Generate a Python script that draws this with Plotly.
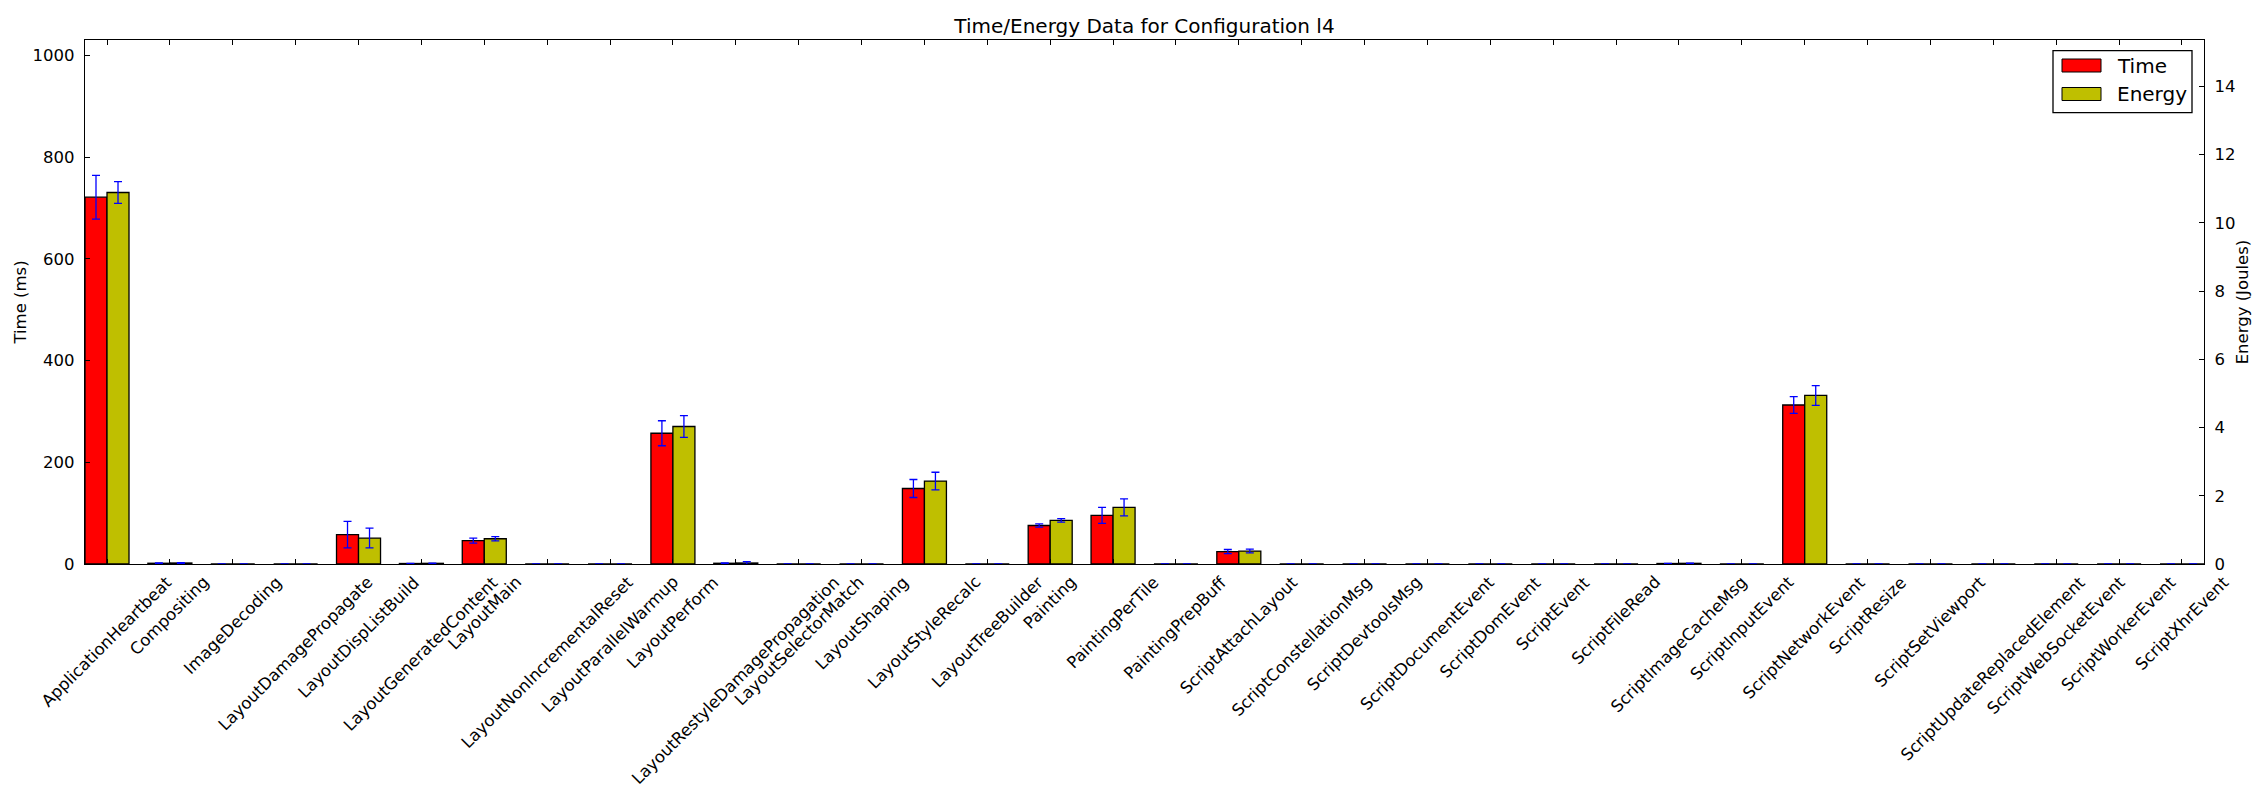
import plotly.graph_objects as go

categories = ["ApplicationHeartbeat", "Compositing", "ImageDecoding", "LayoutDamagePropagate",
              "LayoutDispListBuild", "LayoutGeneratedContent", "LayoutMain", "LayoutNonIncrementalReset",
              "LayoutParallelWarmup", "LayoutPerform", "LayoutRestyleDamagePropagation", "LayoutSelectorMatch",
              "LayoutShaping", "LayoutStyleRecalc", "LayoutTreeBuilder", "Painting", "PaintingPerTile",
              "PaintingPrepBuff", "ScriptAttachLayout", "ScriptConstellationMsg", "ScriptDevtoolsMsg",
              "ScriptDocumentEvent", "ScriptDomEvent", "ScriptEvent", "ScriptFileRead", "ScriptImageCacheMsg",
              "ScriptInputEvent", "ScriptNetworkEvent", "ScriptResize", "ScriptSetViewport",
              "ScriptUpdateReplacedElement", "ScriptWebSocketEvent", "ScriptWorkerEvent", "ScriptXhrEvent"]

time_ms = [721, 1.5, 0, 0, 57.7, 1.0, 46, 0, 0, 257, 1.5, 0, 0, 148.4, 0, 75.7, 95.5, 0, 24.5, 0, 0,
           0, 0, 0, 0, 1.0, 0, 312.5, 0, 0, 0, 0, 0, 0]
time_err = [43, 0.5, 0, 0, 26, 0.3, 5, 0, 0, 24.6, 0.5, 0, 0, 17.7, 0, 3.3, 15.8, 0, 4, 0, 0,
            0, 0, 0, 0, 0.3, 0, 16.4, 0, 0, 0, 0, 0, 0]
energy_j = [10.89, 0.03, 0, 0, 0.76, 0.02, 0.74, 0, 0, 4.03, 0.03, 0, 0, 2.43, 0, 1.28, 1.66, 0, 0.38, 0, 0,
            0, 0, 0, 0, 0.02, 0, 4.94, 0, 0, 0, 0, 0, 0]
energy_err = [0.32, 0.01, 0, 0, 0.29, 0.005, 0.06, 0, 0, 0.32, 0.04, 0, 0, 0.26, 0, 0.05, 0.25, 0, 0.055, 0, 0,
              0, 0, 0, 0, 0.005, 0, 0.29, 0, 0, 0, 0, 0, 0]

time_ticks = [0, 200, 400, 600, 800, 1000]
energy_ticks = [0, 2, 4, 6, 8, 10, 12, 14]

series_names = ["Time", "Energy"]
series_colors = ["#ff0000", "#bfbf00"]

BAR_W = 0.35
FONT = "DejaVu Sans"
idx = list(range(len(categories)))

W, H = 2266, 800
ML, MR, MT, MB = 85, 62, 40, 236
PW, PH = W - ML - MR, H - MT - MB


def px(X):
    return (X - ML) / PW


def py(Y):
    return (H - MB - Y) / PH


fig = go.Figure()
fig.add_trace(go.Bar(
    x=[i + BAR_W / 2 for i in idx], y=time_ms, width=BAR_W, name=series_names[0],
    marker=dict(color=series_colors[0], line=dict(color="black", width=1.3)),
    error_y=dict(type="data", array=time_err, color="#0000ff", thickness=1.3, width=4),
    yaxis="y",
))
fig.add_trace(go.Bar(
    x=[i + 1.5 * BAR_W for i in idx], y=energy_j, width=BAR_W, name=series_names[1],
    marker=dict(color=series_colors[1], line=dict(color="black", width=1.3)),
    error_y=dict(type="data", array=energy_err, color="#0000ff", thickness=1.3, width=4),
    yaxis="y2",
))

annotations = []
for i, c in enumerate(categories):
    annotations.append(dict(
        x=i + BAR_W, y=0, xref="x", yref="paper", text=c, showarrow=False,
        textangle=-45, xanchor="center", yanchor="top", yshift=-6,
        font=dict(family=FONT, size=16.5, color="black"),
    ))

# legend drawn in matplotlib style (wide rectangular handles)
shapes = [dict(type="rect", xref="paper", yref="paper",
               x0=px(2053), x1=px(2192), y0=py(112.7), y1=py(50.6),
               line=dict(color="black", width=1.3), fillcolor="white", layer="above")]
for k, (name, col) in enumerate(zip(series_names, series_colors)):
    yc = 65.5 + k * 28.5
    shapes.append(dict(type="rect", xref="paper", yref="paper",
                       x0=px(2062), x1=px(2101), y0=py(yc + 6.5), y1=py(yc - 6.5),
                       line=dict(color="black", width=1), fillcolor=col, layer="above"))
    annotations.append(dict(x=px(2115), y=py(yc), xref="paper", yref="paper", text=name,
                            showarrow=False, xanchor="left", yanchor="middle",
                            font=dict(family=FONT, size=20, color="black")))

fig.update_layout(
    width=W, height=H,
    margin=dict(l=ML, r=MR, t=MT, b=MB),
    paper_bgcolor="white", plot_bgcolor="white",
    barmode="overlay",
    font=dict(family=FONT, size=16.5, color="black"),
    title=dict(text="Time/Energy Data for Configuration l4", x=0.5, xref="paper",
               y=1 - 26 / 800, yref="container", yanchor="middle", xanchor="center",
               font=dict(family=FONT, size=20, color="black")),
    xaxis=dict(range=[0, len(categories) - 1 + 2 * BAR_W], tickvals=[i + BAR_W for i in idx],
               showticklabels=False, ticks="inside", ticklen=5, tickcolor="black",
               showline=True, linecolor="black", linewidth=1.3, mirror="ticks",
               showgrid=False, zeroline=False),
    yaxis=dict(range=[0, 1030], tickvals=time_ticks, ticks="inside", ticklen=5, tickcolor="black",
               showline=True, linecolor="black", linewidth=1.3, showgrid=False, zeroline=False,
               ticklabelstandoff=6,
               title=dict(text="Time (ms)", font=dict(family=FONT, size=16.5), standoff=1)),
    yaxis2=dict(range=[0, 15.36], tickvals=energy_ticks, overlaying="y", side="right",
                ticks="inside", ticklen=5, tickcolor="black",
                showline=True, linecolor="black", linewidth=1.3, showgrid=False, zeroline=False,
                ticklabelstandoff=6,
                title=dict(text="Energy (Joules)", font=dict(family=FONT, size=16.5), standoff=1)),
    showlegend=False,
    shapes=shapes,
    annotations=annotations,
)

fig.write_html("out.html")
